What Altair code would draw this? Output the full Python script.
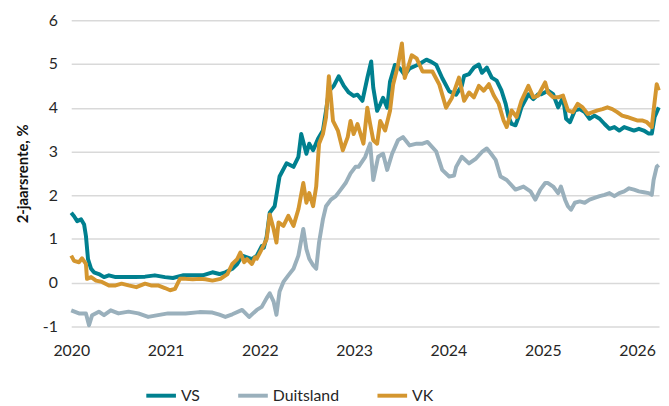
import altair as alt
import pandas as pd

vs_dates = ["2020-01-01","2020-01-12","2020-01-24","2020-02-08","2020-02-20","2020-02-27","2020-03-06","2020-03-18","2020-03-29","2020-04-17","2020-05-07","2020-05-26","2020-06-21","2020-07-29","2020-09-05","2020-10-13","2020-11-20","2020-12-29","2021-01-29","2021-03-08","2021-04-16","2021-05-24","2021-07-01","2021-07-28","2021-08-20","2021-09-16","2021-10-05","2021-10-24","2021-11-12","2021-12-01","2021-12-20","2022-01-08","2022-01-16","2022-01-27","2022-02-08","2022-02-27","2022-03-18","2022-04-14","2022-05-11","2022-05-30","2022-06-10","2022-06-30","2022-07-11","2022-07-26","2022-08-14","2022-09-02","2022-09-14","2022-09-25","2022-10-14","2022-11-02","2022-11-22","2022-12-11","2022-12-30","2023-01-14","2023-02-02","2023-02-21","2023-03-08","2023-03-16","2023-03-31","2023-04-12","2023-04-23","2023-05-09","2023-05-20","2023-06-08","2023-06-27","2023-07-16","2023-08-04","2023-08-23","2023-09-11","2023-10-08","2023-10-27","2023-11-15","2023-12-08","2024-01-04","2024-01-31","2024-02-22","2024-03-02","2024-03-21","2024-04-09","2024-04-28","2024-05-10","2024-05-29","2024-06-17","2024-07-06","2024-07-25","2024-08-10","2024-08-21","2024-09-02","2024-09-17","2024-09-29","2024-10-10","2024-11-06","2024-11-25","2024-12-14","2024-12-26","2025-01-21","2025-02-10","2025-03-01","2025-03-20","2025-04-01","2025-04-16","2025-05-05","2025-05-24","2025-06-12","2025-07-01","2025-07-20","2025-08-09","2025-08-28","2025-09-16","2025-10-05","2025-10-24","2025-11-12","2025-12-01","2025-12-20","2026-01-08","2026-01-27","2026-02-15","2026-02-27","2026-03-10","2026-03-26"]
vs_values = [1.60,1.52,1.41,1.45,1.33,1.07,0.54,0.32,0.24,0.20,0.13,0.17,0.13,0.13,0.13,0.14,0.17,0.13,0.11,0.17,0.17,0.17,0.24,0.20,0.24,0.32,0.43,0.62,0.58,0.54,0.62,0.84,0.80,1.05,1.60,1.75,2.43,2.73,2.65,2.88,3.40,2.95,3.18,3.03,3.29,3.48,3.93,4.38,4.50,4.72,4.50,4.35,4.27,4.30,4.16,4.68,5.06,4.46,3.93,4.08,4.23,4.00,4.60,4.98,4.90,4.75,4.90,4.95,5.00,5.10,5.05,4.98,4.68,4.38,4.30,4.50,4.73,4.77,4.92,4.99,4.80,4.92,4.69,4.62,4.39,4.09,3.79,3.63,3.60,3.79,4.01,4.31,4.20,4.31,4.31,4.39,4.31,4.01,4.24,3.75,3.67,3.94,3.97,3.90,3.75,3.82,3.75,3.63,3.52,3.56,3.48,3.56,3.52,3.48,3.52,3.48,3.41,3.41,3.79,4.01]

de_dates = ["2020-01-01","2020-01-31","2020-02-27","2020-03-10","2020-03-22","2020-04-17","2020-05-07","2020-06-02","2020-07-02","2020-08-10","2020-09-17","2020-10-25","2020-12-02","2021-01-10","2021-02-10","2021-03-19","2021-05-12","2021-07-01","2021-07-28","2021-08-20","2021-09-16","2021-10-24","2021-11-20","2021-12-20","2022-01-08","2022-01-27","2022-02-08","2022-02-23","2022-03-06","2022-03-18","2022-04-02","2022-04-21","2022-05-11","2022-05-30","2022-06-18","2022-06-30","2022-07-11","2022-07-26","2022-08-07","2022-08-18","2022-09-02","2022-09-14","2022-10-03","2022-10-22","2022-11-10","2022-11-29","2022-12-18","2023-01-06","2023-01-18","2023-02-13","2023-03-04","2023-03-16","2023-04-04","2023-04-23","2023-05-09","2023-05-28","2023-06-20","2023-07-09","2023-08-04","2023-08-31","2023-09-23","2023-10-12","2023-11-15","2023-12-08","2024-01-04","2024-01-23","2024-01-31","2024-02-22","2024-03-21","2024-04-17","2024-05-10","2024-05-29","2024-06-13","2024-07-02","2024-07-21","2024-08-14","2024-09-17","2024-10-18","2024-11-14","2024-12-03","2024-12-22","2025-01-10","2025-01-21","2025-02-10","2025-03-01","2025-03-12","2025-03-28","2025-04-08","2025-04-20","2025-05-05","2025-05-24","2025-06-12","2025-07-01","2025-07-20","2025-08-09","2025-08-28","2025-09-16","2025-10-05","2025-10-24","2025-11-12","2025-12-01","2025-12-20","2026-01-08","2026-01-27","2026-02-15","2026-02-27","2026-03-06","2026-03-18","2026-03-26"]
de_values = [-0.63,-0.70,-0.70,-0.97,-0.74,-0.66,-0.74,-0.63,-0.70,-0.66,-0.70,-0.78,-0.74,-0.70,-0.70,-0.70,-0.67,-0.68,-0.73,-0.78,-0.72,-0.62,-0.78,-0.62,-0.55,-0.35,-0.24,-0.43,-0.73,-0.20,0.02,0.17,0.32,0.62,1.23,0.77,0.55,0.40,0.32,0.92,1.45,1.75,1.90,1.98,2.13,2.28,2.50,2.65,2.65,2.88,3.18,2.35,2.88,2.95,2.58,2.95,3.26,3.33,3.14,3.18,3.18,3.22,3.00,2.58,2.43,2.45,2.65,2.88,2.73,2.84,2.99,3.07,2.96,2.81,2.43,2.35,2.13,2.20,2.09,1.90,2.13,2.28,2.28,2.20,2.05,2.20,1.90,1.75,1.67,1.83,1.86,1.83,1.90,1.94,1.98,2.01,2.05,1.98,2.05,2.09,2.16,2.13,2.09,2.07,2.05,2.01,2.35,2.65,2.69]

vk_dates = ["2020-01-01","2020-01-12","2020-01-31","2020-02-12","2020-02-27","2020-03-02","2020-03-18","2020-04-06","2020-04-29","2020-05-26","2020-06-21","2020-07-14","2020-08-10","2020-09-09","2020-10-13","2020-11-05","2020-12-02","2020-12-29","2021-01-18","2021-02-06","2021-02-25","2021-03-19","2021-04-16","2021-05-12","2021-06-04","2021-07-01","2021-08-01","2021-08-28","2021-09-16","2021-10-05","2021-10-17","2021-11-01","2021-11-12","2021-12-01","2021-12-13","2021-12-20","2022-01-08","2022-01-27","2022-02-08","2022-02-23","2022-03-06","2022-03-14","2022-04-02","2022-04-21","2022-05-11","2022-05-30","2022-06-18","2022-06-30","2022-07-11","2022-07-26","2022-08-07","2022-08-18","2022-09-02","2022-09-14","2022-09-25","2022-10-03","2022-10-11","2022-10-30","2022-11-18","2022-12-07","2022-12-18","2022-12-30","2023-01-14","2023-02-06","2023-02-21","2023-03-04","2023-03-16","2023-03-31","2023-04-12","2023-05-01","2023-05-20","2023-06-01","2023-06-20","2023-07-05","2023-07-16","2023-08-12","2023-08-31","2023-09-23","2023-10-31","2023-11-27","2023-12-23","2024-01-15","2024-02-11","2024-03-02","2024-03-21","2024-04-09","2024-04-28","2024-05-17","2024-06-06","2024-06-25","2024-07-14","2024-08-02","2024-08-14","2024-09-02","2024-09-21","2024-10-10","2024-11-06","2024-11-25","2024-12-14","2025-01-10","2025-01-21","2025-02-10","2025-03-01","2025-03-20","2025-04-08","2025-04-27","2025-05-16","2025-06-04","2025-06-24","2025-07-13","2025-08-01","2025-08-20","2025-09-08","2025-09-27","2025-10-16","2025-11-04","2025-11-23","2025-12-12","2026-01-01","2026-01-20","2026-02-08","2026-02-27","2026-03-06","2026-03-18","2026-03-26"]
vk_values = [0.62,0.50,0.47,0.56,0.43,0.09,0.13,0.05,0.02,-0.06,-0.06,-0.02,-0.06,-0.10,-0.02,-0.06,-0.06,-0.12,-0.17,-0.14,0.09,0.09,0.08,0.09,0.08,0.05,0.09,0.20,0.43,0.54,0.69,0.47,0.54,0.43,0.58,0.55,0.77,1.00,1.56,1.23,0.92,1.38,1.30,1.53,1.30,1.68,2.28,1.83,2.05,1.75,2.20,3.18,3.40,3.78,4.72,4.23,3.70,3.48,3.03,3.33,3.70,3.40,3.63,3.18,4.00,3.63,3.26,3.18,3.70,3.48,3.93,4.53,4.98,5.47,4.68,5.20,5.13,4.83,4.83,4.53,4.00,4.23,4.69,4.16,4.35,4.24,4.50,4.39,4.54,4.28,4.09,3.71,3.56,3.94,3.79,4.16,4.50,4.24,4.28,4.58,4.35,4.24,4.24,4.28,3.94,3.90,4.09,4.01,3.86,3.90,3.94,3.97,4.01,3.97,3.90,3.82,3.79,3.75,3.71,3.71,3.67,3.56,3.94,4.54,4.40]

series_names = ["VS", "Duitsland", "VK"]
series_colors = ["#00808F", "#9AB0BC", "#D4962F"]
year_ticks = [2020, 2021, 2022, 2023, 2024, 2025, 2026]
y_ticks = [-1, 0, 1, 2, 3, 4, 5, 6]

frames = {
    "VS": pd.DataFrame({"datum": vs_dates, "rente": vs_values, "land": "VS"}),
    "Duitsland": pd.DataFrame({"datum": de_dates, "rente": de_values, "land": "Duitsland"}),
    "VK": pd.DataFrame({"datum": vk_dates, "rente": vk_values, "land": "VK"}),
}

color = alt.Color(
    "land:N",
    scale=alt.Scale(domain=series_names, range=series_colors),
    legend=alt.Legend(
        title=None, orient="none", direction="horizontal",
        legendX=74, legendY=363,
        symbolType="stroke", symbolSize=900, symbolStrokeWidth=4,
        labelFont="Lato", labelFontSize=16, labelColor="#262626",
        labelOffset=3, columnPadding=30, padding=0,
    ),
)

x = alt.X(
    "datum:T",
    title=None,
    scale=alt.Scale(domain=["2020-01-01", "2026-03-27"]),
    axis=alt.Axis(
        values=[alt.DateTime(year=y, month=1, date=1) for y in year_ticks],
        format="%Y", grid=False, domain=False, ticks=False,
        labelFlush=False,
        labelFont="Lato", labelFontSize=16, labelColor="#262626",
        labelPadding=16,
    ),
)
y = alt.Y(
    "rente:Q",
    title="2-jaarsrente, %",
    scale=alt.Scale(domain=[-1, 6], nice=False, zero=False),
    axis=alt.Axis(
        values=y_ticks, labelExpr="'' + datum.value",
        grid=True, gridColor="#D9D9D9", gridWidth=1.5,
        domain=False, ticks=False,
        labelFont="Lato", labelFontSize=16, labelColor="#262626",
        labelPadding=14,
        titleFont="Lato", titleFontSize=15, titleFontWeight="bold",
        titleColor="#111111", titlePadding=12,
    ),
)

layers = []
for name in ["Duitsland", "VS", "VK"]:
    layers.append(
        alt.Chart(frames[name]).mark_line(strokeWidth=4, strokeJoin="round")
        .encode(x=x, y=y, color=color)
    )

chart = alt.layer(*layers).properties(
    width=595, height=310,
    autosize=alt.AutoSizeParams(type="none"),
    padding={"left": 64, "top": 10, "right": 2, "bottom": 78},
).configure_view(stroke=None)

chart.save("out.html", embed_options={"renderer": "svg", "actions": False})
